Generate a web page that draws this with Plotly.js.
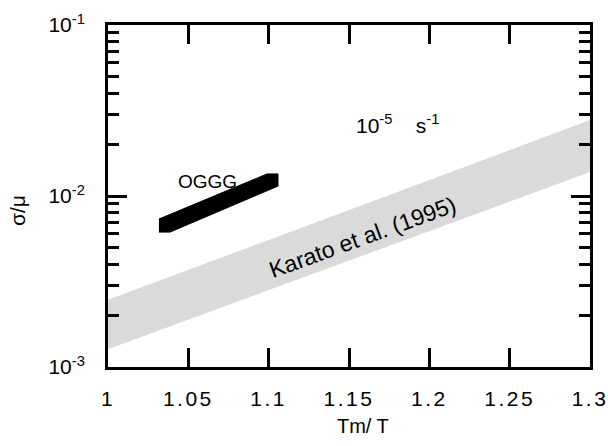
<!DOCTYPE html>
<html>
<head>
<meta charset="utf-8">
<script src="https://cdn.plot.ly/plotly-3.0.1.min.js"></script>
<style>
html,body{margin:0;padding:0;background:#fff;}
#chart{width:608px;height:446px;}
#chart .xtick text{letter-spacing:2.5px;}
</style>
</head>
<body>
<div id="chart"></div>
<script>
// Karato et al. (1995) band: edges at Tm/T = 1 and 1.3
const karatoX = [1.0, 1.3];
const karatoLower = [0.00127, 0.0138];
const karatoUpper = [0.00247, 0.0278];

// OGGG black bar outline (Tm/T, sigma/mu)
const ogggX = [1.0317, 1.099, 1.1058, 1.1058, 1.0386, 1.0317];
const ogggY = [0.00733, 0.01346, 0.01346, 0.01143, 0.00615, 0.00615];

// axis ticks
const xTickVals = [1, 1.05, 1.1, 1.15, 1.2, 1.25, 1.3];
const xTickText = ['1', '1.05', '1.1', '1.15', '1.2', '1.25', '1.3'];
const yTickVals = [0.001, 0.01, 0.1];
const yTickText = ['10<sup>-3</sup>', '10<sup>-2</sup>', '10<sup>-1</sup>'];
const yMinorVals = [0.002,0.003,0.004,0.005,0.006,0.007,0.008,0.009,
                    0.02,0.03,0.04,0.05,0.06,0.07,0.08,0.09];

const bandX = [karatoX[0], karatoX[1], karatoX[1], karatoX[0]];
const bandY = [karatoLower[0], karatoLower[1], karatoUpper[1], karatoUpper[0]];

const font = 'Liberation Sans, Arial, Helvetica, sans-serif';
const NB = '&nbsp;';

const traces = [
  {x: bandX, y: bandY, type: 'scatter', mode: 'lines', fill: 'toself',
   fillcolor: 'rgb(218,218,218)', line: {width: 0, color: 'rgba(0,0,0,0)'},
   hoverinfo: 'skip', showlegend: false},
  {x: ogggX, y: ogggY, type: 'scatter', mode: 'lines', fill: 'toself',
   fillcolor: '#000', line: {width: 1, color: '#000'},
   hoverinfo: 'skip', showlegend: false}
];

const layout = {
  width: 608, height: 446,
  margin: {l: 108, r: 18, t: 25, b: 79},
  paper_bgcolor: '#fff', plot_bgcolor: '#fff',
  font: {family: font, size: 20, color: '#000'},
  showlegend: false,
  xaxis: {
    range: [1, 1.3], tickmode: 'array', tickvals: xTickVals, ticktext: xTickText,
    ticks: 'inside', ticklen: 19, tickwidth: 3, tickcolor: '#000',
    showline: true, linewidth: 3, linecolor: '#000', mirror: 'ticks',
    showgrid: false, zeroline: false, ticklabelstandoff: 11,
    tickfont: {size: 21, family: font},
    title: {text: NB.repeat(5) + 'Tm/ T', font: {size: 20, family: font}, standoff: 10}
  },
  yaxis: {
    type: 'log', range: [-3, -1], tickmode: 'array', tickvals: yTickVals, ticktext: yTickText,
    ticks: 'inside', ticklen: 19, tickwidth: 3, tickcolor: '#000',
    showline: true, linewidth: 3, linecolor: '#000', mirror: 'ticks',
    showgrid: false, zeroline: false, ticklabelstandoff: 16,
    tickfont: {size: 21, family: font},
    minor: {tickmode: 'array', tickvals: yMinorVals, ticks: 'inside', ticklen: 11,
            tickwidth: 3, tickcolor: '#000', showgrid: false},
    title: {text: 'σ/μ' + NB.repeat(5), font: {size: 21, family: font}, standoff: 18}
  },
  annotations: [
    {x: 1.0622, y: Math.log10(0.0121), xref: 'x', yref: 'y', text: 'OGGG',
     showarrow: false, font: {size: 19, family: font}},
    {x: 1.1802, y: Math.log10(0.0262), xref: 'x', yref: 'y',
     text: '10<sup>-5</sup>' + NB.repeat(4) + 's<sup>-1</sup>',
     showarrow: false, font: {size: 21, family: font}},
    {x: 1.1587, y: -2.24, xref: 'x', yref: 'y', text: 'Karato et al. (1995)',
     textangle: -20, showarrow: false, font: {size: 23, family: font}}
  ]
};

Plotly.newPlot('chart', traces, layout, {staticPlot: true, displayModeBar: false});
</script>
</body>
</html>
